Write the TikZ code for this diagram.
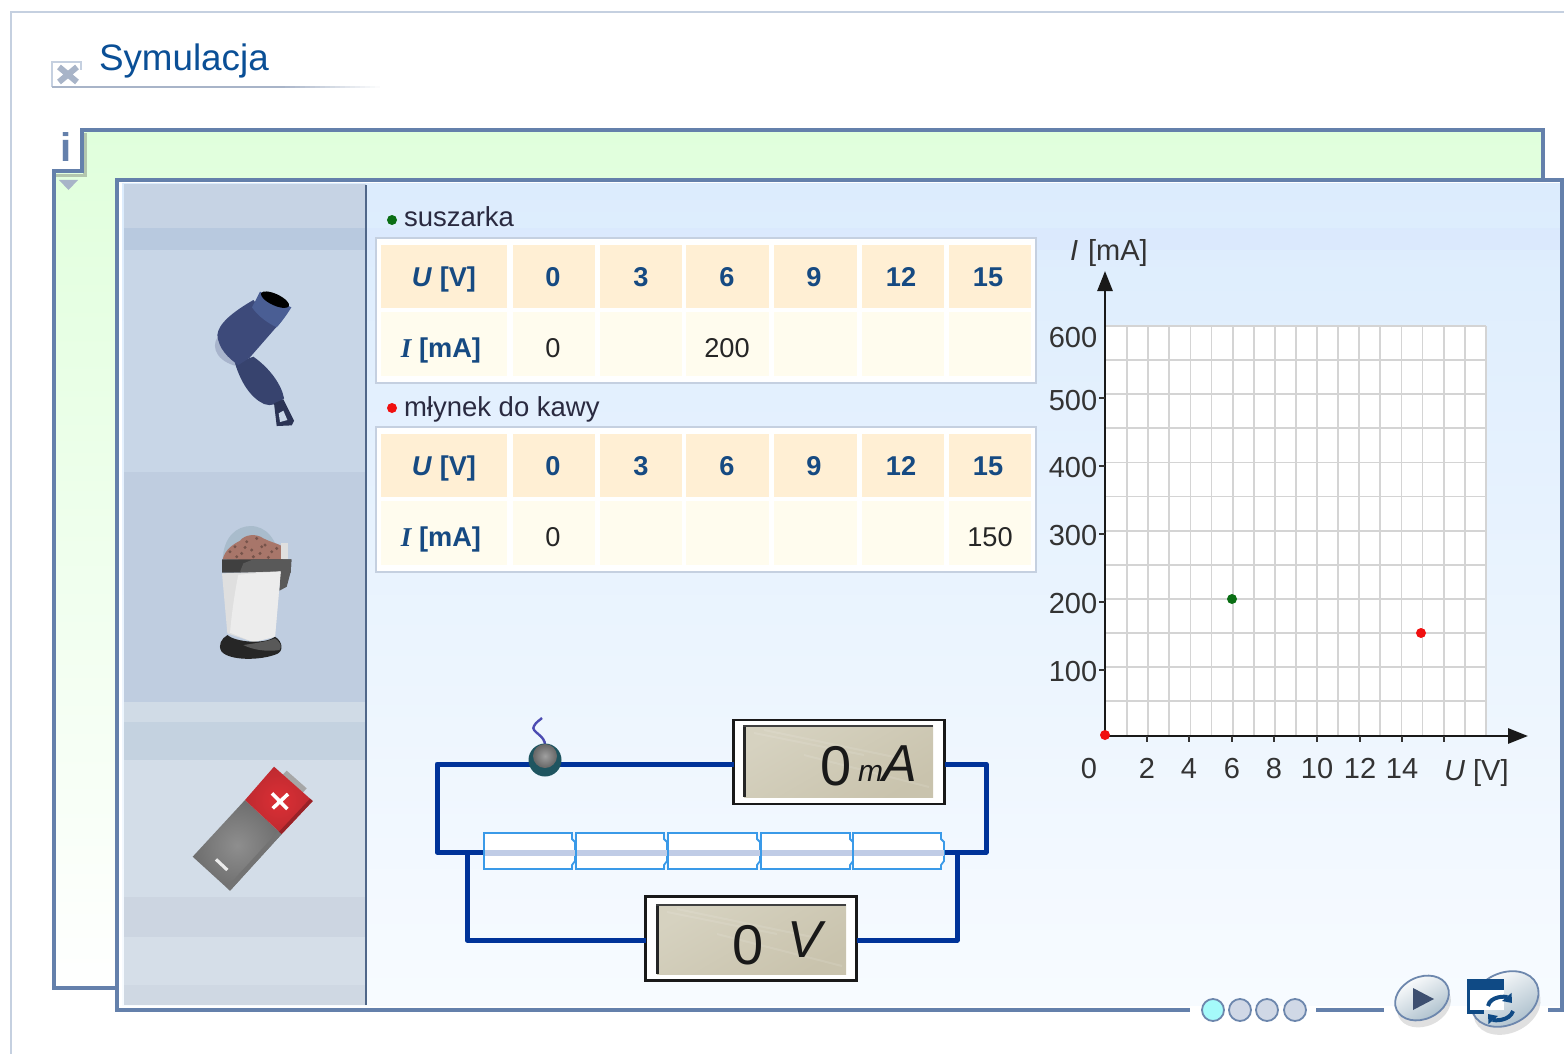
\documentclass[tikz,border=0pt]{standalone}
\usepackage{fontspec}
\setmainfont{Liberation Sans}
\newfontfamily\serifbi{Liberation Serif}
\usetikzlibrary{arrows.meta,calc}
\definecolor{frameblue}{HTML}{6480AB}
\definecolor{framelight}{HTML}{C5D0E0}
\definecolor{titleblue}{HTML}{0A4F96}
\definecolor{hdrcell}{HTML}{FFEFD4}
\definecolor{rowcell}{HTML}{FFFCEE}
\definecolor{hdrtxt}{HTML}{164A82}
\definecolor{wire}{HTML}{003399}
\definecolor{resedge}{HTML}{3A9AE8}
\definecolor{navy}{HTML}{0F4A85}
\definecolor{gridgray}{HTML}{D4D4D4}
\definecolor{dotgray}{HTML}{D0D8E6}
\definecolor{dotedge}{HTML}{6D87AD}
\definecolor{paneltop}{HTML}{DCECFD}
\definecolor{panelbot}{HTML}{F7FBFF}
\definecolor{greentop}{HTML}{E0FFDC}
\definecolor{xgray}{HTML}{A8B4C8}
\definecolor{labtxt}{HTML}{2A2A40}
\definecolor{sidebase}{HTML}{C8D6E7}
\definecolor{stripc}{HTML}{C0CCE6}
\definecolor{knobc}{HTML}{1F5560}
\definecolor{playc}{HTML}{3D4F70}
\definecolor{notchc}{HTML}{B3C6AE}
\definecolor{greendot}{HTML}{0A6E14}
\definecolor{reddot}{HTML}{F01010}
\definecolor{cyandot}{HTML}{A5FAFA}
\definecolor{btnlow}{HTML}{A5BAC8}
\tikzset{
  x=0.5pt,y=-0.5pt,
  txt/.style={inner sep=0pt,outer sep=0pt,anchor=base},
  tabtxt/.style={txt,font=\fontsize{13.6}{16}\selectfont,text=black!85},
  hdr/.style={txt,font=\fontsize{13.6}{16}\selectfont\bfseries,text=hdrtxt},
  lab/.style={txt,font=\fontsize{13.75}{16}\selectfont,text=labtxt},
  axlab/.style={txt,font=\fontsize{14.5}{16}\selectfont,text=black!80},
  wireline/.style={draw=wire,line width=2.5pt,line join=round},
  axis/.style={draw=black!90,line width=1.4pt},
  display/.style={draw=black!90,line width=1.1pt,fill=white,inner sep=0pt,outer sep=0pt},
  lcdtxt/.style={txt,text=black!90},
  navdot/.style={draw=dotedge,line width=0.9pt,fill=dotgray},
  pframe/.style={draw=frameblue,line width=2pt},
  btn/.style={top color=white,bottom color=btnlow,shading angle=30,draw=dotedge,line width=0.9pt},
}
\newcommand{\cellrect}[5]{\fill[#5] (#1,#3) rectangle (#2,#4);}
\newcommand{\datatable}[2]{%
  \begin{scope}[yshift=-#1*0.5pt]
  \fill[white] (376,238) rectangle (1036,383);
  \draw[framelight,line width=1pt] (376,238) rectangle (1036,383);
  \foreach \xa/\xb in {381/507,513/595,600/682,686/769,774/857,862/944,949/1031}{
    \cellrect{\xa}{\xb}{245}{308}{hdrcell}
    \cellrect{\xa}{\xb}{312}{376}{rowcell}
  }
  \node[hdr] (u#2) at (444,286) {\textit{U} [V]};
  \node[hdr] (i#2) at (441,357) {{\serifbi\bfseries\itshape I} [mA]};
  \foreach \xc/\v/\k in {553/0/a,641/3/b,727/6/c,814/9/d,901/12/e,988/15/f}{
    \node[hdr] (h#2\k) at (\xc,286) {\v};
  }
  \node[tabtxt] (r#2a) at (553,357) {0};
  \end{scope}}
\newcommand{\resbox}[2]{%
  \filldraw[draw=resedge,line width=0.9pt,fill=white]
    (#1,833) -- (#2,833) -- (#2,839) -- ($(#2,842)+(3,0)$) -- ($(#2,861)+(3,0)$) -- (#2,865) -- (#2,869) -- (#1,869) -- cycle;
  \fill[stripc] (#1+0.5,850) rectangle ($(#2,855.5)+(3,0)$);}
\newcommand{\lcdstreaks}[2]{%
  \draw[white,opacity=.1,line width=1pt] (#1+10,#2+8) -- (#1+120,#2+30) (#1+20,#2+5) -- (#1+160,#2+34) (#1+60,#2+30) -- (#1+185,#2+62);}
\begin{document}
\begin{tikzpicture}
\useasboundingbox (0,0) rectangle (1564,1054);
\fill[white] (0,0) rectangle (1564,1054);
% outer frame
\draw[framelight,line width=1.1pt] (11,1054) -- (11,12) -- (1564,12);
% title
\node[txt,anchor=base west,font=\fontsize{18.4}{20}\selectfont,text=titleblue] (title) at (99,71) {Symulacja};
\draw[framelight,line width=1pt] (81,70) -- (81,62) -- (52,62) -- (52,87);
\draw[line width=3pt,color=xgray] (59,67) -- (77,82) (77,67) -- (59,82);
\fill[xgray] (52,86) rectangle (280,88);
\foreach \k in {0,...,20}{
  \pgfmathsetmacro{\mixv}{100-\k*5}
  \fill[xgray!\mixv!white] (280+\k*5,86) rectangle (286+\k*5,88);
}
% green panel
\shade[top color=greentop,bottom color=white]
  (54,172) -- (82,172) -- (82,130) -- (1543,130) -- (1543,1000) -- (54,988) -- cycle;
\fill[notchc] (83,133) rectangle (87,177);
\fill[notchc] (56,174) rectangle (87,177);
\draw[pframe,line join=miter] (117,988) -- (54,988) -- (54,171) -- (82,171) -- (82,130) -- (1543,130) -- (1543,180);
\node[txt,font=\fontsize{20}{20}\selectfont\bfseries,text=frameblue] (info) at (66,162) {i};
\fill[xgray] (59,180) -- (78,180) -- (68.5,190) -- cycle;
% main panel
\fill[white] (117,180) rectangle (1562,1010);
\shade[top color=paneltop,bottom color=panelbot] (122,184) rectangle (1560,1005);
\fill[blue!60!white,opacity=.025] (366,228) rectangle (1560,250);
% sidebar bands
\foreach \ya/\yb/\c in {184/228/C6D3E4,228/250/B8C9DF,250/472/C8D6E7,472/702/BFCDE0,702/722/D0DBE6,722/760/C4D2E0,760/897/D3DDE8,897/937/CCD5E1,937/985/D5DEE8,985/1005/CFD8E3}{
  \definecolor{bandc}{HTML}{\c}
  \fill[bandc] (124,\ya) rectangle (366,\yb);
}
\draw[frameblue!80!black,line width=1pt] (366,185) -- (366,1005);
% frame of panel
\draw[pframe] (1548,1010) -- (1562,1010) -- (1562,180) -- (117,180) -- (117,1010) -- (1190,1010);
\draw[pframe] (1316,1010) -- (1384,1010);
% hair dryer
\begin{scope}[shift={(120,270)},x=0.1667pt,y=-0.1667pt]
  \definecolor{dryer}{HTML}{3D4A7A}
  \definecolor{dryerl}{HTML}{4A5E94}
  \definecolor{grille}{HTML}{A8B4CC}
  \fill[grille] (302,192) .. controls (272,215) and (278,268) .. (345,287) -- (350,260) -- cycle;
  \fill[dryer!90!black] (345,280) -- (400,260) .. controls (450,295) and (485,345) .. (492,385) .. controls (478,402) and (452,410) .. (432,402) .. controls (390,382) and (362,335) .. (345,280) -- cycle;
  \fill[dryer] (400,90) .. controls (340,125) and (295,160) .. (292,195) .. controls (295,235) and (325,265) .. (355,285) -- (388,264) -- (470,170) -- cycle;
  \fill[dryerl] (396,112) -- (420,65) -- (514,112) .. controls (500,135) and (485,155) .. (470,172) .. controls (445,160) and (415,140) .. (396,112) -- cycle;
  \fill[black] (465,89) [rotate around={-25:(465,89)}] ellipse [x radius=46,y radius=17];
  \fill[dryer!70!black] (462,400) -- (490,388) -- (522,452) -- (515,466) -- (470,468) -- cycle;
  \fill[sidebase] (476,430) -- (490,422) -- (502,450) -- (480,456) -- cycle;
\end{scope}
% coffee grinder
\begin{scope}[shift={(120,270)},x=0.1667pt,y=-0.1667pt]
  \definecolor{domec}{HTML}{A9BCCC}
  \definecolor{coffee}{HTML}{A8766A}
  \fill[domec] (308,870) .. controls (310,800) and (350,768) .. (392,768) .. controls (440,768) and (472,810) .. (478,870) -- cycle;
  \fill[coffee] (308,868) .. controls (315,840) and (335,825) .. (360,812) .. controls (375,792) and (410,790) .. (430,805) .. controls (450,815) and (470,820) .. (482,826) -- (488,872) -- cycle;
  \foreach \px/\py in {330/845,345/830,365/850,380/815,395/840,410/805,420/850,435/825,455/845,470/835,350/860,400/860,445/862,375/832,425/830}{
    \fill[coffee!70!black] (\px,\py) circle [radius=5];
  }
  \fill[gray!25] (482,818) rectangle (505,866);
  \fill[black!75] (306,868) -- (514,868) -- (512,908) -- (306,908) -- cycle;
  \fill[black!65] (370,880) -- (400,868) -- (514,868) -- (512,908) -- (360,905) -- cycle;
  \fill[black!65] (480,905) -- (512,905) -- (500,950) -- (478,962) -- cycle;
  \fill[gray!25] (306,910) -- (482,904) -- (465,1100) -- (400,1116) -- (322,1090) -- cycle;
  \fill[gray!15] (355,914) -- (482,904) -- (465,1100) -- (400,1116) -- (330,1088) .. controls (335,1030) and (345,960) .. (355,914) -- cycle;
  \fill[black!85] (322,1095) .. controls (345,1115) and (430,1125) .. (465,1100) .. controls (490,1115) and (490,1145) .. (470,1152) .. controls (420,1172) and (330,1172) .. (305,1145) .. controls (292,1125) and (305,1105) .. (322,1095) -- cycle;
  \fill[black!65] (370,1125) .. controls (400,1120) and (440,1115) .. (465,1105) .. controls (485,1120) and (485,1130) .. (478,1140) .. controls (440,1145) and (400,1140) .. (370,1125) -- cycle;
\end{scope}
% battery
\begin{scope}[shift={(120,700)},x=0.1667pt,y=-0.1667pt]
  \definecolor{batred}{HTML}{DC2F35}
  \definecolor{batred2}{HTML}{BE2A30}
  \definecolor{batgray}{HTML}{8E8E8E}
  \definecolor{batgray2}{HTML}{6E6E6E}
  \fill[gray!70] (500,212) -- (560,265) -- (548,278) -- (488,224) -- cycle;
  \shade[inner color=batgray,outer color=batgray2] (375,300) -- (485,402) -- (330,572) -- (218,470) -- cycle;
  \fill[black!55] (476,392) -- (485,402) -- (330,572) -- (320,562) -- cycle;
  \shade[inner color=batred,outer color=batred2] (462,200) -- (578,303) -- (485,402) -- (375,300) -- cycle;
  \fill[batred2!80!black] (570,296) -- (578,303) -- (485,402) -- (477,395) -- cycle;
  \draw[white,line width=1.8pt] (456,280) -- (502,327) (504,282) -- (458,325);
  \draw[white!85!gray,line width=1.6pt] (288,478) -- (322,510);
\end{scope}
% series labels
\fill[greendot] (392,220) circle [radius=5];
\node[lab,anchor=base west] (sus) at (404,227) {suszarka};
\fill[reddot] (392,408) circle [radius=5];
\node[lab,anchor=base west] (mly) at (404,416) {młynek do kawy};
% tables
\datatable{0}{A}
\datatable{189}{B}
\node[tabtxt] (ra200) at (727,357) {200};
\node[tabtxt] (rb150) at (990,546) {150};
% graph
\fill[white] (1106,326) rectangle (1486,736);
\foreach \k in {1,...,18}{ \draw[gridgray,line width=0.9pt] (1106+\k*21.1,326) -- (1106+\k*21.1,736); }
\foreach \k in {0,...,11}{ \draw[gridgray,line width=0.9pt] (1106,326+\k*34.1) -- (1486,326+\k*34.1); }
\coordinate (origin) at (1105,736);
\coordinate (ytip) at (1105,271);
\coordinate (xtip) at (1528,736);
\draw[axis,-{Triangle[length=10pt,width=7.5pt]}] (origin) -- (ytip);
\draw[axis,-{Triangle[length=10pt,width=7.5pt]}] (origin) -- (xtip);
\foreach \yt in {398,466,534,602,670}{ \draw[black!80,line width=0.6pt] (1099,\yt) -- (1105,\yt); }
\foreach \xt in {1147,1189,1232,1274,1317,1360,1402,1444}{ \draw[black!80,line width=0.6pt] (\xt,736) -- (\xt,742); }
\foreach \v/\yb in {600/347,500/410,400/477,300/545,200/613,100/681}{
  \node[axlab] (ylab\v) at (1073,\yb) {\v};
}
\foreach \v/\xb in {0/1089,2/1147,4/1189,6/1232,8/1274,10/1317,12/1360,14/1402}{
  \node[axlab] (xlab\v) at (\xb,778) {\v};
}
\node[axlab,anchor=base west] (ulab) at (1444,780) {\textit{U} [V]};
\node[axlab,anchor=base west] (ilab) at (1070,260) {\textit{I}\hspace{1pt} [mA]};
\fill[greendot] (1232,599) circle [radius=5];
\fill[reddot] (1421,633) circle [radius=5];
\fill[reddot] (1105,735) circle [radius=5];
% circuit
\node[display,minimum width=105.5pt,minimum height=42pt] (amp) at (839,762) {};
\node[display,minimum width=105.5pt,minimum height=42pt] (volt) at (751,938.5) {};
\coordinate (resL) at (484,852);
\coordinate (resR) at (945,852);
\coordinate (jL) at (467,852);
\coordinate (jR) at (957,852);
\draw[wireline] (amp.west |- 0,764) -- (437,764) -- (437,852) -- (resL);
\draw[wireline] (amp.east |- 0,764) -- (986,764) -- (986,852) -- (resR);
\draw[wireline] (jL) -- (467,940) -- (volt.west |- 0,940);
\draw[wireline] (jR) -- (957,940) -- (volt.east |- 0,940);
\resbox{484}{572}
\resbox{576}{664}
\resbox{668}{757}
\resbox{761}{850}
\resbox{853}{941}
% LCDs
\definecolor{lcdA}{HTML}{D6D2C0}
\definecolor{lcdB}{HTML}{C9C3AD}
\shade[left color=lcdA,right color=lcdB,shading angle=30] (744,725) rectangle (933,797);
\lcdstreaks{744}{725}
\fill[black!85] (743,725) rectangle (746,797);
\fill[black!75] (743,725) rectangle (933,727);
\shade[left color=lcdA,right color=lcdB,shading angle=30] (657,904) rectangle (846,974);
\lcdstreaks{657}{904}
\fill[black!85] (656,904) rectangle (659,974);
\fill[black!75] (656,904) rectangle (846,906);
\node[lcdtxt,anchor=base,font=\fontsize{28}{28}\selectfont] (ampv) at (836,785) {0};
\node[lcdtxt,anchor=base west,font=\fontsize{15}{28}\selectfont\itshape] (ampu) at (858,781) {m\fontsize{26}{28}\selectfont A};
\node[lcdtxt,anchor=base,font=\fontsize{28}{28}\selectfont] (voltv) at (748,964) {0};
\node[lcdtxt,anchor=base west,font=\fontsize{26}{28}\selectfont\itshape] (voltu) at (787,957) {V};
% knob
\draw[blue!40!gray,line width=1.2pt] (545,746) .. controls (546,735) and (530,732) .. (534,726) .. controls (536,722) and (540,720) .. (542,718);
\fill[knobc] (545,760) circle [radius=16.5];
\shade[inner color=gray!75,outer color=black!60] (545,756) circle [radius=12];
% nav dots
\draw[navdot,fill=cyandot] (1213,1010) circle [radius=11];
\draw[navdot] (1240,1010) circle [radius=11];
\draw[navdot] (1267,1010) circle [radius=11];
\draw[navdot] (1295,1010) circle [radius=11];
% play button
\fill[black,opacity=.12,rotate around={25:(1424,1005)}] (1424,1005) ellipse [x radius=28,y radius=21];
\shade[btn,rotate around={25:(1422,998)}] (1422,998) ellipse [x radius=28,y radius=21];
\fill[playc] (1413,988) -- (1434,999) -- (1413,1010) -- cycle;
% reload button
\fill[black,opacity=.12,rotate around={25:(1507,1007)}] (1507,1007) ellipse [x radius=35,y radius=26];
\shade[btn,rotate around={25:(1505,999)}] (1505,999) ellipse [x radius=35,y radius=26];
\fill[navy] (1467,979) rectangle (1504,990);
\fill[white] (1470,990) rectangle (1504,1010);
\draw[navy,line width=1.6pt] (1468.5,990) -- (1468.5,1012) -- (1484,1012);
\draw[navy,line width=2pt,-{Triangle[length=4pt,width=6pt]}] (1488,1006) .. controls (1490,996) and (1506,996) .. (1512,1003);
\draw[navy,line width=2pt,-{Triangle[length=4pt,width=6pt]}] (1513,1011) .. controls (1510,1021) and (1494,1021) .. (1488,1014);
\end{tikzpicture}
\end{document}
